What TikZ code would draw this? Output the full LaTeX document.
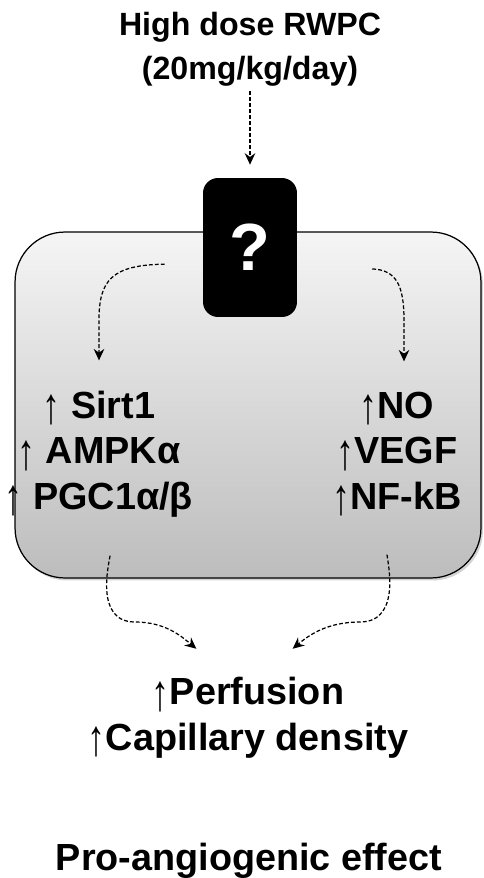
\documentclass[tikz,border=0pt]{standalone}
\usepackage{fontspec}
\setmainfont{Liberation Sans}
\usepackage{tikz}
\usetikzlibrary{arrows.meta,calc,positioning,shadows}
\newcommand{\uparr}{{\mdseries\raisebox{-0.14em}{\scalebox{0.95}[1.35]{\char"2191}}}}
\tikzset{
        txt/.style = {align=center, inner sep=0pt,
            font=\bfseries\fontsize{21.5}{26}\selectfont},
        panel/.style = {draw, rounded corners=1cm,
            top color=gray!8, bottom color=gray!52,
            minimum width=9.32cm,
            minimum height=6.92cm,
            line width=0.7pt,
            drop shadow={opacity=0.35,shadow xshift=0.04cm,shadow yshift=-0.05cm}},
        qbox/.style = {fill=black, rounded corners=0.3cm,
            minimum width=1.88cm,
            minimum height=2.78cm,
            text=white, font=\bfseries\fontsize{38}{40}\selectfont},
        arrow/.style={draw, line width=0.7pt, dash pattern=on 2.2pt off 1.2pt,
            -{Stealth[length=6.5pt,width=6pt]}},
    }

\begin{document}
\begin{tikzpicture}[x=0.02cm,y=-0.02cm]
    \useasboundingbox (0,0) rectangle (483,878);

    \node[txt, font=\bfseries\fontsize{18.3}{25}\selectfont] (dose) at (250,49) {High dose RWPC\\(20mg/kg/day)};
    \node[panel] (cell) at (248,405) {};
    \node[qbox] (q) at (250,247.5) {?};

    \node[txt] (left) at (99,454) {\uparr{} Sirt1\\\uparr{} AMPKα\\\uparr{} PGC1α/β};
    \node[txt] (right) at (397,454) {\uparr NO\\\uparr VEGF\\\uparr NF-kB};

    \node[txt] (effect) at (248,718) {\uparr Perfusion\\\uparr Capillary density};
    \node[txt] (angio) at (249,861) {Pro-angiogenic effect};

    % dose -> unknown target
    \draw[arrow, shorten <=0.1cm, shorten >=0.26cm] (dose) -- (q);

    % unknown target -> the two pathways
    \draw[arrow, shorten <=0.76cm, shorten >=0.6cm]
        ([yshift=-0.32cm]q.west) .. controls (112,265) and (99,280) .. (99,320) -- (left.north);
    \draw[arrow, shorten <=1.5cm, shorten >=0.6cm]
        ([yshift=-0.36cm]q.east) .. controls (396,270) and (404,285) .. (404,320) -- ([xshift=0.14cm]right.north);

    % pathways -> outcome
    \draw[arrow, shorten <=0.76cm, shorten >=0.2cm]
        ([xshift=0.22cm]left.south) to[out=-90,in=180] (135,622) to[out=0,in=140] ([xshift=-0.88cm,yshift=0.44cm]effect.north);
    \draw[arrow, shorten <=0.76cm, shorten >=0.2cm]
        ([xshift=-0.2cm]right.south) to[out=-90,in=0] (360,622) to[out=180,in=40] ([xshift=0.74cm,yshift=0.44cm]effect.north);
\end{tikzpicture}
\end{document}
